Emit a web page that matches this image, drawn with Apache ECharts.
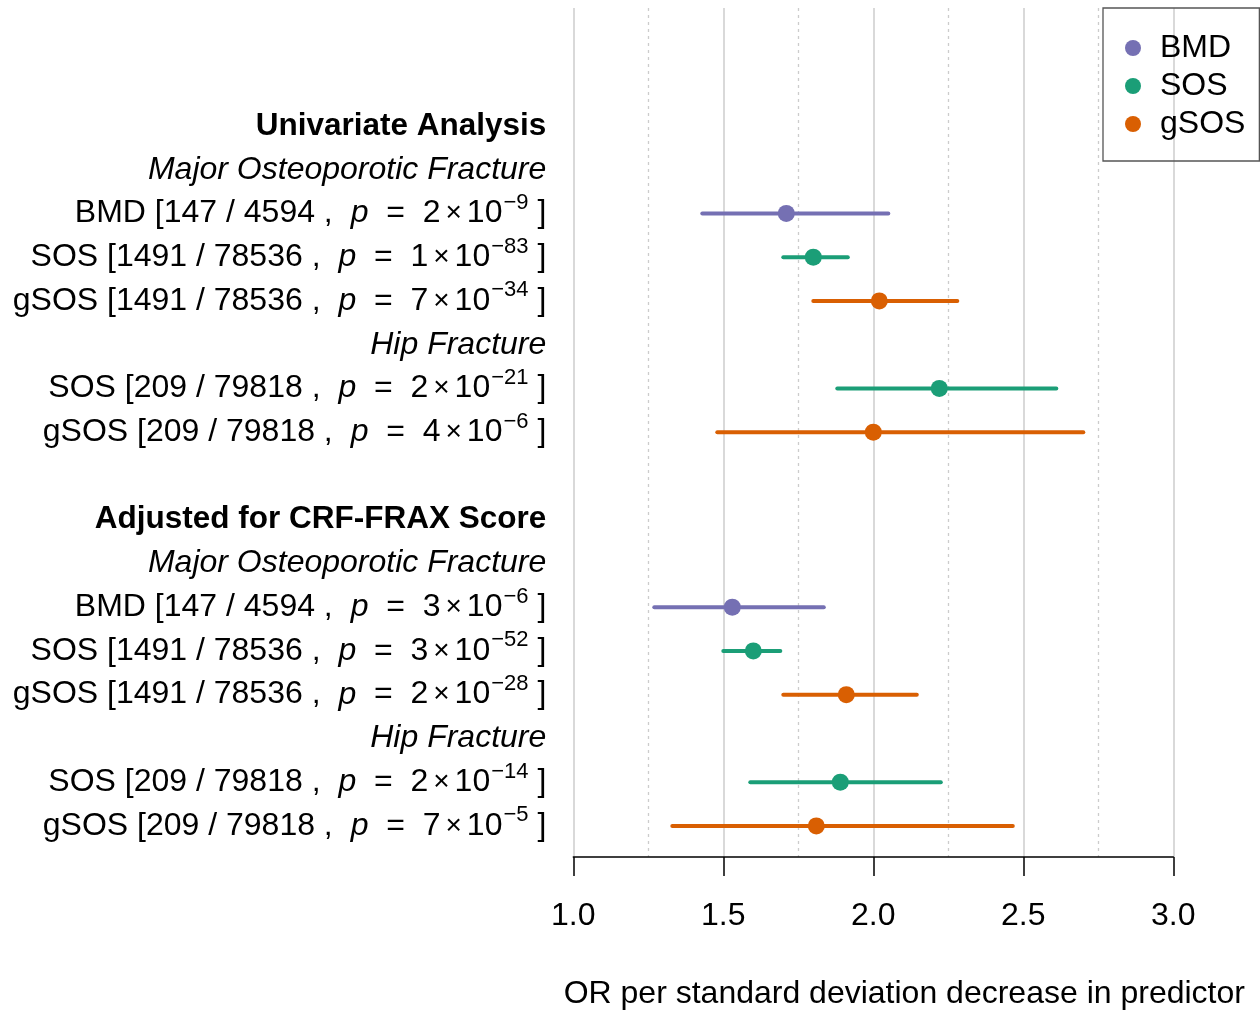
<!DOCTYPE html>
<html>
<head>
<meta charset="utf-8">
<script src="https://cdn.jsdelivr.net/npm/echarts@6/dist/echarts.min.js"></script>
<style>
  html, body { margin: 0; padding: 0; background: #fff; }
  #chart { width: 1260px; height: 1010px; }
</style>
</head>
<body>
<div id="chart"></div>
<script>
// row layout of the forest plot (top to bottom)
const rowKinds = ['head', 'sub', 'data', 'data', 'data', 'sub', 'data', 'data', 'blank',
                  'head', 'sub', 'data', 'data', 'data', 'sub', 'data', 'data'];
const rowTitles = ['Univariate Analysis', 'Major Osteoporotic Fracture', '', '', '', 'Hip Fracture', '', '', '',
                   'Adjusted for CRF-FRAX Score', 'Major Osteoporotic Fracture', '', '', '', 'Hip Fracture', '', ''];

// estimates, one entry per data row
const dataRows   = [2, 3, 4, 6, 7, 11, 12, 13, 15, 16];
const predictors = ['BMD', 'SOS', 'gSOS', 'SOS', 'gSOS', 'BMD', 'SOS', 'gSOS', 'SOS', 'gSOS'];
const cases      = [147, 1491, 1491, 209, 209, 147, 1491, 1491, 209, 209];
const totals     = [4594, 78536, 78536, 79818, 79818, 4594, 78536, 78536, 79818, 79818];
const pMantissa  = [2, 1, 7, 2, 4, 3, 3, 2, 2, 7];
const pExponent  = [-9, -83, -34, -21, -6, -6, -52, -28, -14, -5];
const oddsRatio  = [1.71, 1.80, 2.02, 2.22, 2.00, 1.53, 1.60, 1.91, 1.89, 1.81];
const ciLow      = [1.43, 1.70, 1.80, 1.88, 1.48, 1.27, 1.50, 1.70, 1.59, 1.33];
const ciHigh     = [2.05, 1.915, 2.28, 2.61, 2.70, 1.835, 1.69, 2.145, 2.225, 2.465];

const groups = ['BMD', 'SOS', 'gSOS'];
const groupColors = ['#7570B3', '#1B9E77', '#D95F02'];
const xTicks = [1.0, 1.5, 2.0, 2.5, 3.0];

const FONT = '"Liberation Sans", Arial, Helvetica, sans-serif';

function rowLabel(idx) {
  const kind = rowKinds[idx];
  if (kind === 'head') return '{b|' + rowTitles[idx] + '}';
  if (kind === 'sub') return '{i|' + rowTitles[idx] + '}';
  if (kind === 'blank') return '';
  const k = dataRows.indexOf(idx);
  const exp = '\u2212' + Math.abs(pExponent[k]);
  return '{n|' + predictors[k] + ' [' + cases[k] + ' / ' + totals[k] + ' , }' +
         '{i|p}{n|  =  ' + pMantissa[k] + '}{x|\u00d7}{n|10}{s|' + exp + '}{n| ]}';
}

const chart = echarts.init(document.getElementById('chart'));

const series = groups.map((g, gi) => ({
  name: g,
  type: 'custom',
  xAxisIndex: 0,
  yAxisIndex: 0,
  itemStyle: { color: groupColors[gi] },
  encode: { x: [0, 1, 2], y: 3 },
  data: dataRows
    .map((r, k) => predictors[k] === g ? [oddsRatio[k], ciLow[k], ciHigh[k], r] : null)
    .filter(d => d),
  renderItem: (params, api) => {
    const row = api.value(3);
    const p = api.coord([api.value(0), row]);
    const a = api.coord([api.value(1), row]);
    const b = api.coord([api.value(2), row]);
    const color = groupColors[gi];
    return {
      type: 'group',
      children: [
        { type: 'line', shape: { x1: a[0], y1: a[1], x2: b[0], y2: b[1] },
          style: { stroke: color, lineWidth: 4, lineCap: 'round' } },
        { type: 'circle', shape: { cx: p[0], cy: p[1], r: 8.5 },
          style: { fill: color } }
      ]
    };
  }
}));

// empty series to carry the reference axis with grid lines
series.push({ type: 'line', xAxisIndex: 1, yAxisIndex: 1, data: [], silent: true });

const option = {
  animation: false,
  backgroundColor: '#fff',
  textStyle: { fontFamily: FONT },
  legend: {
    data: groups,
    orient: 'vertical',
    left: 1103,
    top: 8,
    icon: 'circle',
    itemWidth: 44,
    itemHeight: 16,
    itemGap: 6,
    padding: [24, 14, 21, 22],
    borderColor: '#555',
    borderWidth: 1.3,
    textStyle: { fontSize: 32, color: '#000', fontFamily: FONT, lineHeight: 32 }
  },
  grid: [
    { left: 573.3, width: 600, top: 104, height: 743.75, outerBoundsMode: 'none' },
    { left: 573.3, width: 600, top: 8, bottom: 153, outerBoundsMode: 'none' }
  ],
  xAxis: [
    { gridIndex: 0, type: 'value', min: 1, max: 3, show: false },
    {
      gridIndex: 1, type: 'value', min: 1, max: 3, interval: 0.5,
      name: 'OR per standard deviation decrease in predictor',
      nameLocation: 'middle',
      nameGap: 121,
      nameTextStyle: { fontSize: 32, color: '#000', fontFamily: FONT, padding: [0, 0, 0, 62] },
      axisLine: { show: true, lineStyle: { color: '#000', width: 1.5 } },
      axisTick: { show: true, length: 19, lineStyle: { color: '#000', width: 1.5 } },
      axisLabel: {
        fontSize: 32, color: '#000', fontFamily: FONT, margin: 43,
        formatter: v => xTicks.includes(+v.toFixed(2)) ? v.toFixed(1) : ''
      },
      splitLine: { show: true, lineStyle: { color: '#cccccc', width: 1.5 } },
      minorTick: { show: false, splitNumber: 2 },
      minorSplitLine: { show: true, lineStyle: { color: '#cccccc', width: 1.3, type: [3, 4] } }
    }
  ],
  yAxis: [
    {
      gridIndex: 0,
      type: 'category',
      inverse: true,
      data: rowKinds.map((_, i) => String(i)),
      axisLine: { show: false },
      axisTick: { show: false },
      splitLine: { show: false },
      axisLabel: {
        interval: 0,
        margin: 27,
        align: 'right',
        formatter: (v, i) => rowLabel(i),
        rich: {
          n: { fontSize: 32, color: '#000', fontFamily: FONT, lineHeight: 34 },
          i: { fontSize: 32, color: '#000', fontFamily: FONT, fontStyle: 'italic', lineHeight: 34, padding: [0, 0, 0, 9] },
          b: { fontSize: 31.5, color: '#000', fontFamily: FONT, fontWeight: 'bold', lineHeight: 34 },
          x: { fontSize: 28, color: '#000', fontFamily: FONT, lineHeight: 34, padding: [0, 5, 0, 5] },
          s: { fontSize: 22, color: '#000', fontFamily: FONT, lineHeight: 22, padding: [0, 0, 21, 1] }
        }
      }
    },
    { gridIndex: 1, type: 'value', show: false, min: 0, max: 1 }
  ],
  series: series
};

chart.setOption(option);
</script>
</body>
</html>
